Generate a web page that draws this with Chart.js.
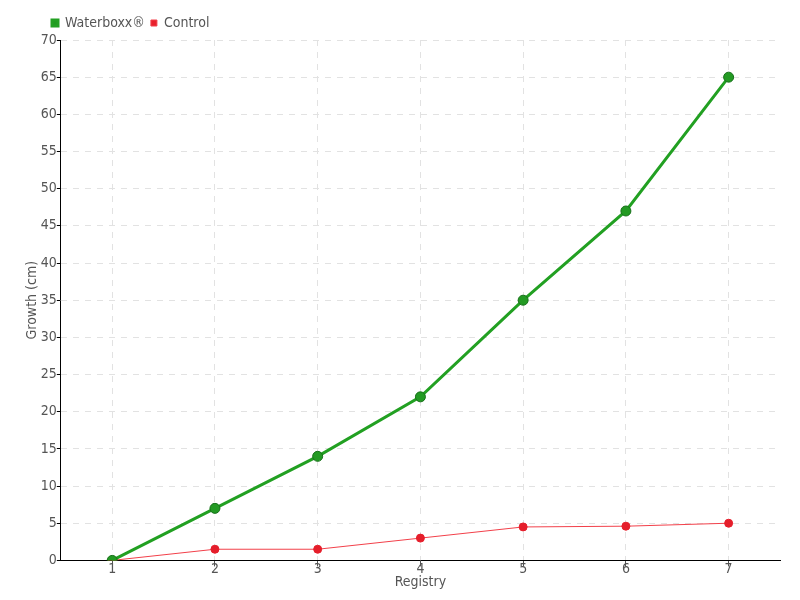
<!DOCTYPE html>
<html><head><meta charset="utf-8">
<script src="https://cdn.jsdelivr.net/npm/chart.js@4"></script>
<style>html,body{margin:0;padding:0;background:#fff}#wrap{width:800px;height:600px}</style>
</head><body><div id="wrap"><canvas id="c" width="800" height="600"></canvas></div>
<script>
const categories = ['1','2','3','4','5','6','7'];
const waterboxx = [0, 7, 14, 22, 35, 47, 65];
const control = [0, 1.5, 1.5, 3, 4.5, 4.6, 5];
const FONT = "'DejaVu Sans Condensed', 'Liberation Sans Narrow', sans-serif";
Chart.defaults.font.family = FONT;
Chart.defaults.color = '#555';
new Chart(document.getElementById('c'), {
  type: 'line',
  data: {
    labels: categories,
    datasets: [
      {label: 'Waterboxx®', data: waterboxx, borderColor: '#22a022', backgroundColor: '#1f9a1f',
       borderWidth: 3, pointRadius: 5, pointBackgroundColor: '#239a23', pointBorderColor: '#17701a', pointBorderWidth: 1, tension: 0},
      {label: 'Control', data: control, borderColor: '#f2404a', backgroundColor: '#e8202c',
       borderWidth: 1, pointRadius: 4, pointBackgroundColor: '#e51e2b', pointBorderColor: '#e51e2b', tension: 0}
    ]
  },
  options: {
    responsive: false, animation: false,
    layout: {padding: {left: 24, right: 20, top: 10, bottom: 9}},
    plugins: {
      legend: {position: 'top', align: 'start',
        labels: {boxWidth: 6, boxHeight: 6, padding: 6, font: {size: 14}, color: '#555'}},
      tooltip: {enabled: false}
    },
    scales: {
      x: {offset: true,
        grid: {color: '#e2e2e2', tickColor: '#555', tickLength: 6},
        border: {display: true, color: '#000', width: 1, dash: [6, 6]},
        ticks: {font: {size: 14}, color: '#555', padding: -5},
        title: {display: true, text: 'Registry', font: {size: 14}, color: '#555', padding: {top: 1, bottom: 0}}
      },
      y: {min: 0, max: 70,
        grid: {color: '#e2e2e2', tickColor: '#000', tickLength: 4},
        border: {display: true, color: '#000', width: 1, dash: [6, 6]},
        ticks: {stepSize: 5, font: {size: 14}, color: '#555', padding: 0},
        title: {display: true, text: 'Growth (cm)', font: {size: 14}, color: '#555', padding: 0}
      }
    }
  },
  plugins: [{id: 'legendShift', afterLayout(chart){
    const lg = chart.legend; if (lg) { lg.left += 22; lg.right += 22; }
  }}]
});
</script></body></html>
